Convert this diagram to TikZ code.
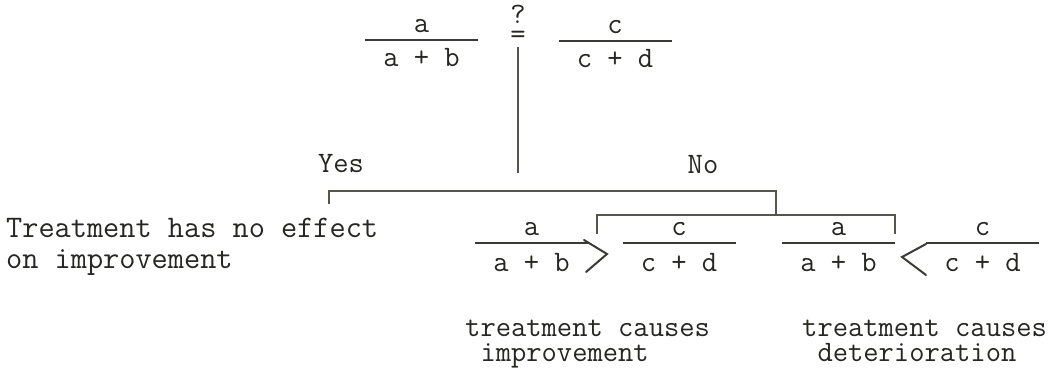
\documentclass[tikz,border=0pt]{standalone}
\usepackage{fontspec}
\usepackage{tikz}
\usetikzlibrary{positioning,calc}
\definecolor{ink}{HTML}{262622}
\definecolor{rule}{HTML}{3A3A36}
\definecolor{faint}{HTML}{55554F}
\tikzset{
  tw/.style={inner sep=0pt, text=ink, font=\ttfamily\fontsize{29.7}{24.5}\selectfont},
  twbig/.style={tw, font=\ttfamily\fontsize{31.4}{31}\selectfont},
  fracbar/.style={rectangle, fill=rule, inner sep=0pt, minimum width=113pt,
                  minimum height=2pt},
  branch/.style={draw=faint, line width=1.3pt},
  chevron/.style={draw=rule, line width=2pt, line cap=round}
}

\begin{document}
\begin{tikzpicture}[x=1pt, y=-1pt, node distance=6pt]
\useasboundingbox (0,0) rectangle (1062,381);
% the question
\node[fracbar] (topL) at (421.5,40) {};
\node[tw, above=of topL] (topLnum) {a};
\node[tw, below=7pt of topL] (topLden) {a + b};
\node[fracbar] (topR) at (615,41) {};
\node[tw, above=of topR] (topRnum) {c};
\node[tw, below=7pt of topR] (topRden) {c + d};
\node[tw, anchor=base] (query) at (518,43) {\shortstack{?\\[4pt]=}};
\coordinate (split) at (518,173);
\draw[branch] ([yshift=-4pt]query.south) -- (split);

% yes / no branches
\node[tw, anchor=base] (yes) at (341,172) {Yes};
\node[tw, anchor=base] (no) at (703,173) {No};
\coordinate (yesleg) at (329,204);
\coordinate (noknee) at (776,191);
\coordinate (nofork) at (776,215);
\coordinate (gtleg) at (597,234);
\coordinate (ltleg) at (895,234);
\draw[branch] (yesleg) |- (noknee) -- (nofork);
\draw[branch] (gtleg) |- (nofork) -| (ltleg);

\node[twbig, anchor=north west, align=left] (noeffect) at (6,218)
  {Treatment has no effect\\on improvement};

% the two outcomes
\node[fracbar] (lowA) at (531.5,243) {};
\node[tw, above=of lowA] (lowAnum) {a};
\node[tw, below=9pt of lowA] (lowAden) {a + b};
\node[fracbar] (lowB) at (679,243) {};
\node[tw, above=of lowB] (lowBnum) {c};
\node[tw, below=9pt of lowB] (lowBden) {c + d};
\coordinate (gt) at (607,254);
\draw[chevron] ($(gt)+(-23,-14)$) -- (gt) -- ($(gt)+(-21,18)$);

\node[fracbar] (lowC) at (838.5,243) {};
\node[tw, above=of lowC] (lowCnum) {a};
\node[tw, below=9pt of lowC] (lowCden) {a + b};
\node[fracbar] (lowD) at (982.5,243) {};
\node[tw, above=of lowD] (lowDnum) {c};
\node[tw, below=9pt of lowD] (lowDden) {c + d};
\coordinate (lt) at (902,257);
\draw[chevron] ($(lt)+(24,-13)$) -- (lt) -- ($(lt)+(24,18)$);

\node[tw, anchor=north west, align=left] (improve) at (465,320)
  {treatment causes\\\phantom{t}improvement};
\node[tw, anchor=north west, align=left] (worsen) at (802,320)
  {treatment causes\\\phantom{t}deterioration};
\end{tikzpicture}
\end{document}
